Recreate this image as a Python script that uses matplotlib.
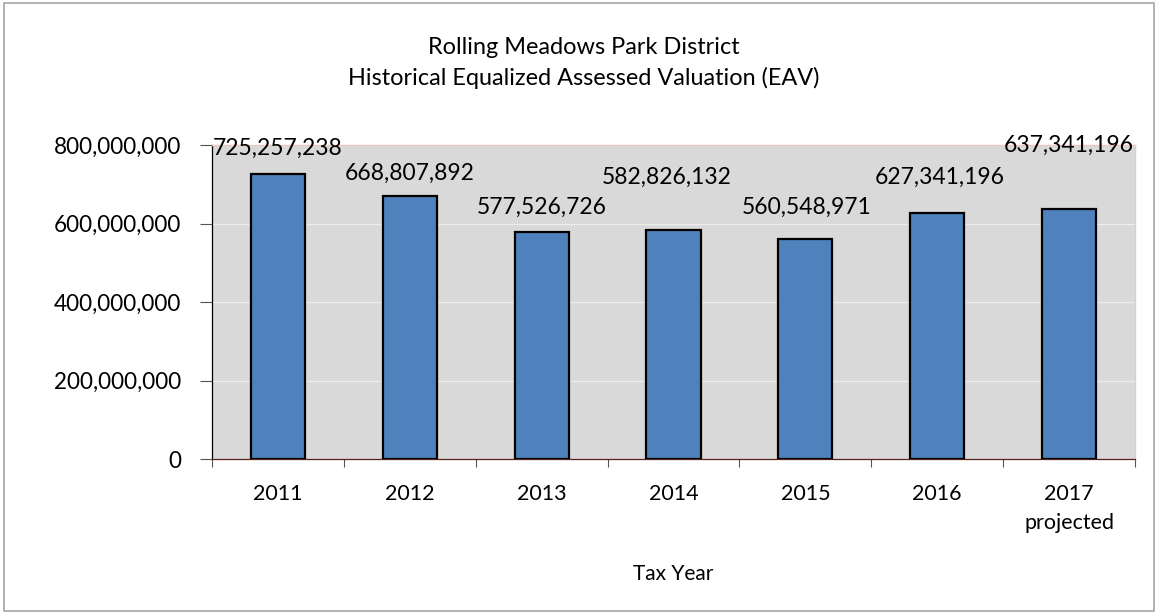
import matplotlib
matplotlib.use("Agg")
import matplotlib.pyplot as plt
from matplotlib.patches import Rectangle
from matplotlib.ticker import FuncFormatter, FixedLocator

plt.rcParams['font.family'] = ['Lato', 'DejaVu Sans']

categories = ["2011", "2012", "2013", "2014", "2015", "2016", "2017\nprojected"]
values = [725257238, 668807892, 577526726, 582826132, 560548971, 627341196, 637341196]
value_labels = ["725,257,238", "668,807,892", "577,526,726", "582,826,132",
                "560,548,971", "627,341,196", "637,341,196"]
# manual label offsets / heights (data units) as placed in the reference
label_dx = [0.0, 0.0, 0.0, -0.05, 0.01, 0.02, 0.0]
label_y = [792e6, 727e6, 642e6, 718e6, 642e6, 718e6, 800e6]
yticks = [0, 200e6, 400e6, 600e6, 800e6]

W, H = 1156, 612
fig = plt.figure(figsize=(W / 100, H / 100), dpi=100)
fig.patch.set_facecolor('white')
renderer = fig.canvas.get_renderer()


def fit_size(s, target_px, base=10):
    t = fig.text(0, 0, s, fontsize=base)
    w = t.get_window_extent(renderer).width
    t.remove()
    return base * target_px / w


fs_ytick = fit_size("800,000,000", 127)
fs_data = fit_size("725,257,238", 130)
fs_xtick = fit_size("2013", 50)
fs_title = fit_size("Historical Equalized Assessed Valuation (EAV)", 472)
fs_xlabel = fit_size("Tax Year", 80)

ax = fig.add_axes([212 / W, (H - 459) / H, (1135 - 212) / W, (459 - 145) / H])
ax.set_facecolor('#D9D9D9')

x = list(range(len(categories)))
ax.bar(x, values, width=0.41, color='#4F81BD', edgecolor='black', linewidth=1.6, zorder=3)

ax.set_xlim(-0.5, len(categories) - 0.5)
ax.set_ylim(0, 800e6)
ax.set_yticks(yticks)
ax.yaxis.set_major_formatter(FuncFormatter(lambda v, p: f"{int(v):,}"))
ax.grid(axis='y', color='#EDEDED', linewidth=0.9, zorder=1)
ax.set_axisbelow(True)

ax.set_xticks(x)
ax.set_xticklabels(categories, linespacing=1.55)
ax.xaxis.set_minor_locator(FixedLocator([i - 0.5 for i in range(len(categories) + 1)]))
ax.tick_params(axis='x', which='major', length=0, pad=18, labelsize=fs_xtick, colors='black')
ax.tick_params(axis='x', which='minor', length=6, width=0.8, color='#555555')
ax.tick_params(axis='y', length=9, width=0.8, color='#555555', pad=13, labelsize=fs_ytick)
for lbl in ax.get_xticklabels():
    lbl.set_verticalalignment('top')

for s in ['top', 'right']:
    ax.spines[s].set_color('#F2C4C4')
    ax.spines[s].set_linewidth(1.0)
ax.spines['left'].set_color('black')
ax.spines['left'].set_linewidth(0.9)
ax.spines['bottom'].set_color('#5A2020')
ax.spines['bottom'].set_linewidth(0.9)

for xi, dx, yi, t in zip(x, label_dx, label_y, value_labels):
    ax.text(xi + dx, yi, t, ha='center', va='center', fontsize=fs_data, zorder=4, clip_on=False)

fig.text(584 / W, 1 - 47 / H, "Rolling Meadows Park District", ha='center', va='center', fontsize=fs_title)
fig.text(584 / W, 1 - 78 / H, "Historical Equalized Assessed Valuation (EAV)", ha='center', va='center', fontsize=fs_title)
fig.text(673 / W, 1 - 574 / H, "Tax Year", ha='center', va='center', fontsize=fs_xlabel)

fig.add_artist(Rectangle((4 / W, 1 / H), (W - 6) / W, (H - 4) / H, transform=fig.transFigure,
                         fill=False, edgecolor='#A6A6A6', linewidth=1.2))

fig.savefig('out.png', dpi=100)
